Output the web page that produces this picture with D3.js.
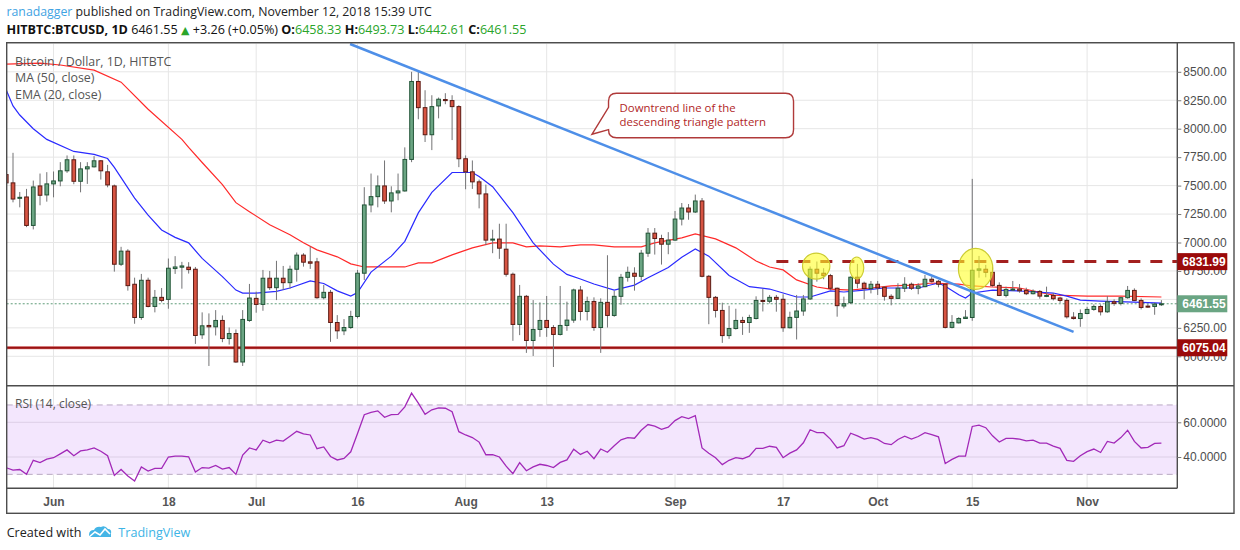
<!DOCTYPE html>
<html><head><meta charset="utf-8">
<script src="https://cdn.jsdelivr.net/npm/d3@7"></script>
<style>body{margin:0;background:#fff;} svg{display:block}</style>
</head><body>
<svg id="c" width="1240" height="550"></svg>
<script>
// ---------------- DATA ----------------
const firstDate = "2018-05-25";           // index 0 of the candle arrays (one candle per day)
const opens  = [7597,7524,7388,7400,7150,7497,7418,7515,7541,7630,7727,7538,7647,7665,7718,7621,7497,6809,6924,6633,6341,6668,6438,6518,6500,6771,6783,6783,6765,6189,6271,6259,6315,6156,6200,5950,6315,6509,6456,6686,6603,6686,6647,6765,6889,6830,6830,6515,6562,6297,6224,6253,6350,6730,7330,7403,7497,7365,7436,7453,7730,8415,8185,7947,8200,8256,8247,8194,7736,7621,7533,7427,7021,7030,6941,6721,6280,6527,6139,6236,6315,6253,6192,6271,6318,6582,6394,6482,6253,6474,6359,6527,6694,6730,6703,6906,7082,7035,6985,7021,7206,7303,7268,7365,6703,6518,6403,6182,6244,6315,6297,6332,6491,6483,6518,6501,6251,6342,6398,6504,6765,6730,6709,6598,6442,6471,6695,6642,6595,6633,6606,6527,6509,6598,6633,6598,6612,6677,6659,6633,6254,6294,6332,6341,6756,6765,6738,6623,6535,6582,6591,6579,6550,6570,6529,6535,6512,6491,6344,6332,6376,6412,6438,6391,6479,6465,6515,6579,6491,6441,6438,6458.33];
const highs  = [7640,7788,7444,7471,7544,7606,7618,7624,7706,7765,7765,7706,7706,7759,7724,7682,7509,6962,6941,6691,6724,6691,6583,6600,6859,6880,6830,6827,6785,6386,6377,6406,6359,6253,6236,6406,6636,6568,6759,6750,6839,6794,6797,6912,6906,6965,6865,6627,6583,6362,6327,6400,6759,7486,7606,7589,7721,7494,7606,7836,8500,8506,8338,8294,8274,8312,8294,8206,7765,7721,7553,7509,7112,7165,7165,6736,6627,6539,6494,6474,6530,6274,6618,6480,6594,6618,6524,6518,6509,6888,6574,6724,6788,6782,6935,7127,7127,7068,7091,7277,7347,7338,7421,7391,6715,6530,6471,6444,6418,6347,6365,6527,6594,6539,6539,6545,6392,6539,6539,6789,6833,6774,6724,6604,6524,6701,6812,6656,6662,6662,6618,6545,6642,6695,6648,6642,6715,6701,6671,6642,6362,6344,6406,7559,6882,6803,6788,6650,6612,6662,6635,6603,6588,6582,6612,6556,6523,6509,6388,6412,6435,6456,6456,6529,6500,6523,6618,6597,6509,6459,6471,6493.73];
const lows   = [7480,7353,7309,7135,7115,7327,7359,7397,7494,7612,7512,7441,7515,7659,7553,7485,6744,6794,6577,6286,6321,6430,6386,6474,6418,6724,6594,6727,6109,6153,5915,6183,6124,6103,5942,5915,6303,6383,6400,6583,6494,6583,6594,6656,6788,6768,6506,6500,6127,6153,6186,6241,6333,6671,7265,7309,7339,7265,7371,7447,7706,8083,7883,7812,8091,8215,7900,7662,7468,7471,7300,6977,6906,6856,6700,6136,6186,6030,6003,6171,6171,5906,6183,6224,6294,6315,6315,6224,6030,6253,6347,6453,6656,6577,6665,6874,6894,6806,6897,7015,7150,7200,7259,6694,6282,6341,6118,6153,6235,6188,6206,6324,6394,6465,6392,6215,6245,6148,6356,6495,6656,6677,6583,6348,6421,6459,6598,6501,6553,6539,6489,6448,6504,6565,6583,6545,6606,6648,6606,6245,6245,6288,6329,6312,6691,6694,6612,6529,6518,6576,6559,6538,6544,6506,6520,6491,6470,6332,6323,6259,6370,6400,6359,6382,6444,6447,6506,6485,6412,6426,6365,6442.61];
const closes = [7524,7382,7397,7150,7488,7415,7515,7541,7630,7727,7538,7647,7665,7718,7630,7506,6809,6924,6621,6341,6668,6438,6518,6491,6774,6785,6794,6762,6183,6268,6259,6315,6156,6200,5950,6324,6512,6456,6686,6603,6686,6647,6765,6889,6827,6818,6515,6562,6297,6224,6253,6350,6730,7330,7403,7497,7365,7436,7453,7730,8415,8185,7947,8194,8259,8247,8194,7736,7621,7533,7427,7021,7030,6950,6721,6280,6527,6139,6236,6315,6253,6192,6271,6318,6583,6394,6482,6253,6474,6359,6527,6694,6738,6703,6906,7082,7035,6985,7021,7206,7303,7268,7365,6703,6518,6403,6182,6244,6315,6297,6341,6491,6482,6518,6501,6251,6342,6398,6504,6765,6730,6709,6598,6445,6462,6695,6642,6595,6633,6601,6527,6509,6598,6633,6598,6618,6677,6659,6633,6254,6298,6332,6344,6756,6768,6738,6623,6535,6588,6591,6576,6550,6570,6529,6535,6506,6491,6347,6332,6376,6412,6438,6391,6479,6465,6515,6579,6491,6429,6432,6459,6461.55];

// indicator readings: [day index from firstDate, value]
const ma50 = [[0,8568],[5,8577],[8,8560],[13,8515],[17,8409],[21,8171],[26,7906],[27,7835],[29,7703],[32,7509],[34,7350],[36,7271],[39,7156],[42,7068],[44,6997],[46,6935],[49,6874],[51,6812],[53,6785],[57,6785],[59,6785],[61,6821],[63,6821],[66,6891],[69,6953],[72,6997],[75,6997],[77,6962],[79,6971],[82,6962],[85,6979],[87,6979],[90,6962],[94,6962],[96,6997],[100,7041],[102,7076],[105,7032],[108,6953],[111,6838],[113,6785],[115,6759],[117,6671],[120,6609],[122,6591],[125,6582],[128,6600],[131,6618],[134,6626],[137,6644],[141,6635],[143,6618],[146,6609],[150,6600],[155,6538],[160,6529],[165,6529],[171,6521]];
const ema20 = [[0,8340],[1,8200],[2,8120],[4,8000],[6,7906],[10,7800],[13,7774],[15,7738],[16,7660],[19,7390],[21,7240],[23,7110],[25,7045],[27,6997],[29,6860],[32,6700],[34,6582],[35,6556],[37,6556],[40,6570],[42,6600],[45,6662],[47,6640],[49,6575],[51,6529],[52,6560],[54,6740],[57,6880],[59,7010],[61,7260],[63,7440],[66,7615],[69,7615],[70,7580],[72,7490],[75,7262],[78,6997],[81,6810],[83,6720],[85,6679],[87,6635],[90,6582],[93,6626],[95,6690],[98,6780],[100,6870],[102,6944],[104,6880],[107,6710],[110,6612],[113,6591],[117,6521],[119,6521],[122,6574],[124,6565],[127,6582],[130,6600],[135,6600],[138,6644],[139,6615],[141,6540],[142,6512],[143,6556],[146,6582],[150,6574],[155,6556],[157,6529],[159,6494],[162,6485],[167,6476],[171,6468]];
const rsi14 = [33.8,32.4,32.8,30.0,38.1,36.8,38.8,39.6,41.8,44.1,40.7,43.5,44.1,45.2,43.3,40.7,29.4,32.8,29.1,26.1,34.3,31.9,33.4,33.4,40.0,40.5,40.5,40.1,31.3,33.9,33.6,35.1,33.0,33.9,30.0,41.1,45.2,44.1,49.7,48.2,49.7,49.2,52.0,54.8,53.3,52.7,44.8,45.8,40.3,38.3,39.2,43.0,53.5,64.4,65.7,66.6,62.9,64.4,64.6,68.9,76.8,71.1,64.6,67.2,68.3,68.1,66.1,54.6,52.7,51.2,48.6,41.3,41.3,40.0,34.7,30.4,36.8,32.1,34.3,35.8,35.1,33.9,36.9,38.3,44.5,41.5,43.3,39.0,44.6,42.7,46.5,49.9,51.2,50.8,55.4,58.7,57.8,55.9,57.2,61.0,63.2,62.1,63.8,45.2,42.2,39.6,35.6,38.1,39.6,39.0,40.5,45.0,45.0,46.2,45.6,39.6,42.2,44.1,48.2,55.7,54.0,54.0,50.3,45.2,46.5,53.7,52.2,50.3,51.2,50.1,47.8,47.1,50.1,52.0,50.3,51.8,54.0,52.9,51.6,36.2,38.6,40.5,40.5,57.6,58.4,56.9,52.2,48.6,50.7,50.7,50.3,49.3,49.7,48.0,48.0,46.3,45.0,38.1,37.5,40.7,43.1,44.6,42.6,49.0,48.0,51.2,55.4,49.0,45.2,45.6,47.8,48.0];

const tickDates  = ["2018-06-01","2018-06-18","2018-07-01","2018-07-16","2018-08-01","2018-08-13","2018-09-01","2018-09-17","2018-10-01","2018-10-15","2018-11-01"];
const tickLabels = ["Jun","18","Jul","16","Aug","13","Sep","17","Oct","15","Nov"];
const priceGrid  = [6000,6250,6500,6750,7000,7250,7500,7750,8000,8250,8500,8750];
const priceTicks = [6000,6250,6750,7000,7250,7500,7750,8000,8250,8500];   // 6500 sits under the last-price tag
const rsiTicks = [40,60];
const rsiBands = [30,70];

const resistance = 6831.99, resistanceFrom = 114;   // day index where the dashed line starts
const support = 6075.04;
const lastPrice = 6461.55;
const trendLine = [[50.9,8744],[158,6214]];           // [day index, price]
const highlights = [[119.9,6793,13.7,13],[125.9,6776,7,11],[143.5,6769,17.2,20.5]]; // [day, price, rx, ry]
const calloutTip = [86.7,7951];
const calloutLines = ["Downtrend line of the","descending triangle pattern"];

// ---------------- LAYOUT ----------------
const svg = d3.select("#c");
const L = 6.7, R = 1177.3, T = 42.7, MB = 385.7, RB = 488.3, FB = 513.3, FR = 1234;
const t0 = Date.parse(firstDate + "T00:00:00Z");
const dayDate = i => new Date(t0 + i * 864e5);
const x = d3.scaleUtc().domain([dayDate(0), dayDate(171)]).range([6.25, 1161.4]);
const xi = i => x(dayDate(i));
const y = d3.scaleLinear().domain([6000, 8500]).range([356.3, 71.8]);
const yr = d3.scaleLinear().domain([40, 60]).range([457, 422.3]);

const defs = svg.append("defs");
defs.append("clipPath").attr("id","cm").append("rect").attr("x",L).attr("y",T).attr("width",R-L).attr("height",MB-T);
defs.append("clipPath").attr("id","cr").append("rect").attr("x",L).attr("y",MB).attr("width",R-L).attr("height",RB-MB);

const FONT = "'Open Sans','Noto Sans',sans-serif";

// grids
const grid = svg.append("g").attr("stroke","#e6e6e6").attr("stroke-width",1);
tickDates.forEach(d => {
  const xx = x(new Date(d + "T00:00:00Z"));
  grid.append("line").attr("x1",xx).attr("x2",xx).attr("y1",T).attr("y2",RB);
});
priceGrid.forEach(p => {
  const yy = y(p);
  if (yy > T && yy < MB) grid.append("line").attr("x1",L).attr("x2",R).attr("y1",yy).attr("y2",yy);
});

// RSI pane background band
const rsiG = svg.append("g").attr("clip-path","url(#cr)");
rsiG.append("rect").attr("x",L).attr("width",R-L).attr("y",yr(rsiBands[1])).attr("height",yr(rsiBands[0])-yr(rsiBands[1])).attr("fill","#f3e6fd");
rsiTicks.forEach(v => rsiG.append("line").attr("x1",L).attr("x2",R).attr("y1",yr(v)).attr("y2",yr(v)).attr("stroke","#dccfe6").attr("stroke-width",1));
rsiBands.forEach(v => rsiG.append("line").attr("x1",L).attr("x2",R).attr("y1",yr(v)).attr("y2",yr(v)).attr("stroke","#b9a9c2").attr("stroke-width",1).attr("stroke-dasharray","6,4"));
rsiG.append("path").datum(rsi14).attr("fill","none").attr("stroke","#a229b8").attr("stroke-width",1.3)
  .attr("d", d3.line().x((d,i)=>xi(i)).y(d=>yr(d)));
svg.append("text").attr("x",15).attr("y",407.5).attr("font-family",FONT).attr("font-size",12).attr("fill","#555").text("RSI (14, close)");

// main pane
const main = svg.append("g").attr("clip-path","url(#cm)");
main.append("line").attr("x1",L).attr("x2",R).attr("y1",y(lastPrice)).attr("y2",y(lastPrice))
  .attr("stroke","#5f9c78").attr("stroke-width",1).attr("stroke-dasharray","2,2");
main.append("line").attr("x1",L).attr("x2",R).attr("y1",y(support)).attr("y2",y(support))
  .attr("stroke","#e08080").attr("stroke-width",3.2);
main.append("line").attr("x1",L).attr("x2",R).attr("y1",y(support)).attr("y2",y(support))
  .attr("stroke","#9a1212").attr("stroke-width",1.8);
main.append("line").attr("x1",xi(resistanceFrom)).attr("x2",R).attr("y1",y(resistance)).attr("y2",y(resistance))
  .attr("stroke","#a3201f").attr("stroke-width",3).attr("stroke-dasharray","12,10");

// MA / EMA
main.append("path").datum(ma50).attr("fill","none").attr("stroke","#ff2a2a").attr("stroke-width",1.2)
  .attr("d", d3.line().x(d=>xi(d[0])).y(d=>y(d[1])));
main.append("path").datum(ema20).attr("fill","none").attr("stroke","#2a2aff").attr("stroke-width",1.2)
  .attr("d", d3.line().x(d=>xi(d[0])).y(d=>y(d[1])));

// candles
const bw = 3.7;
const cg = main.append("g");
closes.forEach((c,i) => {
  const o = opens[i], h = highs[i], l = lows[i];
  const up = c >= o;
  const cx = xi(i);
  cg.append("line").attr("x1",cx).attr("x2",cx).attr("y1",y(h)).attr("y2",y(l)).attr("stroke","#737375").attr("stroke-width",1);
  const top = y(Math.max(o,c)), bot = y(Math.min(o,c));
  cg.append("rect").attr("x",cx-bw/2).attr("width",bw).attr("y",top).attr("height",Math.max(bot-top,1))
    .attr("fill", up ? "#6ba583" : "#d75442").attr("stroke", up ? "#225437" : "#5b1a13").attr("stroke-width",1);
});

// trend line
main.append("line").attr("x1",xi(trendLine[0][0])).attr("y1",y(trendLine[0][1])).attr("x2",xi(trendLine[1][0])).attr("y2",y(trendLine[1][1]))
  .attr("stroke","#4e8fe8").attr("stroke-width",2.5);

// highlight circles
highlights.forEach(h => {
  main.append("ellipse").attr("cx",xi(h[0])).attr("cy",y(h[1])).attr("rx",h[2]).attr("ry",h[3])
    .attr("fill","rgba(255,255,40,0.6)").attr("stroke","#cccc33").attr("stroke-width",1.2);
});

// callout
{
  const tx = xi(calloutTip[0]), ty = y(calloutTip[1]);
  const x0 = tx + 16.6, x1 = tx + 201.6, y0 = ty - 41, y1 = ty + 3.4, r = 8;
  const p = `M${x0+r},${y0} L${x1-r},${y0} Q${x1},${y0} ${x1},${y0+r} L${x1},${y1-r} Q${x1},${y1} ${x1-r},${y1} L${x0+r},${y1} Q${x0},${y1} ${x0},${y1-r} L${x0},${y1-8} L${tx},${ty} L${x0},${y0+14} L${x0},${y0+r} Q${x0},${y0} ${x0+r},${y0} Z`;
  main.append("path").attr("d",p).attr("fill","#fff").attr("stroke","#b03a3a").attr("stroke-width",1.4);
  calloutLines.forEach((t,k) => main.append("text").attr("x",x0+11).attr("y",y0+18.5+k*14.5)
    .attr("font-family",FONT).attr("font-size",11.4).attr("fill","#b11f1f").text(t));
}

// legend
const lg = svg.append("g").attr("font-family",FONT).attr("font-size",12.4).attr("fill","#555");
lg.append("text").attr("x",15).attr("y",65.5).text("Bitcoin / Dollar, 1D, HITBTC");
lg.append("text").attr("x",15).attr("y",82).text("MA (50, close)");
lg.append("text").attr("x",15).attr("y",98.5).text("EMA (20, close)");

// frames
const fr = svg.append("g").attr("stroke","#4d4d4d").attr("stroke-width",1.4).attr("fill","none");
fr.append("rect").attr("x",L).attr("y",T).attr("width",FR-L).attr("height",FB-T);
fr.append("line").attr("x1",L).attr("x2",FR).attr("y1",MB).attr("y2",MB);
fr.append("line").attr("x1",L).attr("x2",R).attr("y1",RB).attr("y2",RB);
fr.append("line").attr("x1",R).attr("x2",R).attr("y1",T).attr("y2",RB);

// price axis
const pa = svg.append("g").attr("transform",`translate(${R},0)`)
  .call(d3.axisRight(y).tickValues(priceTicks).tickSize(4).tickPadding(2).tickFormat(d3.format(".2f")));
pa.select(".domain").remove();
pa.selectAll("line").attr("stroke","#777");
pa.selectAll("text").attr("font-family","'Liberation Sans',Arial,sans-serif").attr("font-size",12).attr("fill","#4d4d4d");

const ra = svg.append("g").attr("transform",`translate(${R},0)`)
  .call(d3.axisRight(yr).tickValues(rsiTicks).tickSize(4).tickPadding(2).tickFormat(d3.format(".4f")));
ra.select(".domain").remove();
ra.selectAll("line").attr("stroke","#777");
ra.selectAll("text").attr("font-family","'Liberation Sans',Arial,sans-serif").attr("font-size",12).attr("fill","#4d4d4d");

// price label boxes
[[resistance,"#9b0a0a"],[lastPrice,"#6aa583"],[support,"#9b0a0a"]].forEach(([v,col]) => {
  const yy = y(v);
  svg.append("rect").attr("x",R).attr("y",yy-8.5).attr("width",50).attr("height",17).attr("fill",col);
  svg.append("text").attr("x",R+5).attr("y",yy+4.3).attr("font-family","'Liberation Sans',Arial,sans-serif")
    .attr("font-size",12).attr("font-weight","bold").attr("fill","#fff").text(d3.format(".2f")(v));
});

// time axis
const ta = svg.append("g").attr("transform",`translate(0,${RB})`)
  .call(d3.axisBottom(x).tickValues(tickDates.map(d => new Date(d+"T00:00:00Z"))).tickSize(0).tickPadding(9)
    .tickFormat((d,i) => tickLabels[i]));
ta.select(".domain").remove();
ta.selectAll("text").attr("font-family","'Liberation Sans',Arial,sans-serif").attr("font-size",12).attr("font-weight","bold").attr("fill","#555");

// header
const h1 = svg.append("text").attr("x",6.5).attr("y",16).attr("font-family",FONT).attr("font-size",12.3).attr("fill","#222");
h1.append("tspan").attr("fill","#3fa3e3").text("ranadagger");
h1.append("tspan").text(" published on TradingView.com, November 12, 2018 15:39 UTC");
const h2 = svg.append("text").attr("x",6.5).attr("y",34).attr("font-family",FONT).attr("font-size",12.6).attr("fill","#111");
const G = "#2aa52a";
h2.append("tspan").attr("font-weight","bold").text("HITBTC:BTCUSD, 1D");
h2.append("tspan").text(" 6461.55 ");
h2.append("tspan").attr("fill",G).attr("font-size",11).attr("font-family","'DejaVu Sans'").text("▲");
h2.append("tspan").text(" +3.26 (+0.05%) ");
[["O:","6458.33"],["H:","6493.73"],["L:","6442.61"],["C:","6461.55"]].forEach(([a,b],k) => {
  h2.append("tspan").attr("font-weight","bold").text((k? " " : "") + a);
  h2.append("tspan").attr("fill",G).text(b);
});

// footer
svg.append("text").attr("x",6.7).attr("y",537).attr("font-family",FONT).attr("font-size",12.6).attr("fill","#222").text("Created with");
const logo = svg.append("g").attr("transform","translate(88,526)");
logo.append("path").attr("d","M1,9 Q1,4 6,4 Q8,0 13,1 Q17,-1 20,3 Q24,3 23,8 L23,11 L1,11 Z").attr("fill","#45b5e6");
logo.append("path").attr("d","M1,11 L7,6 L12,9 L17,3 L22,8").attr("fill","none").attr("stroke","#fff").attr("stroke-width",1.6);
svg.append("text").attr("x",118.3).attr("y",537).attr("font-family",FONT).attr("font-size",12.6).attr("fill","#3db4e6").text("TradingView");
</script>
</body></html>
